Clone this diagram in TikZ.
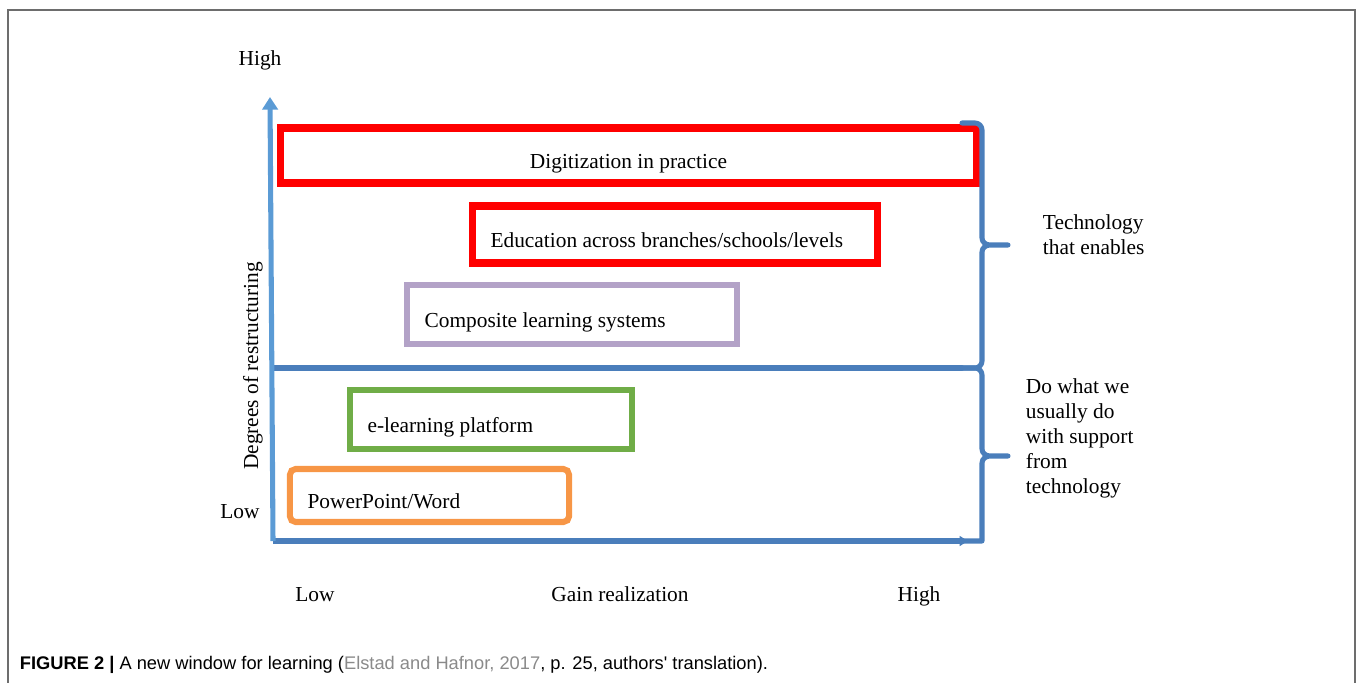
\documentclass[tikz,border=0pt]{standalone}
\usepackage{fontspec}
\setmainfont{Liberation Serif}
\newfontfamily\capfont{Liberation Sans}
\usetikzlibrary{arrows.meta}
\definecolor{axisblue}{HTML}{5B9BD5}
\definecolor{lineblue}{HTML}{4A7EBB}
\definecolor{boxred}{HTML}{FF0000}
\definecolor{boxlilac}{HTML}{B3A2C7}
\definecolor{boxgreen}{HTML}{70AD47}
\definecolor{boxorange}{HTML}{F79646}
\definecolor{framegray}{HTML}{6D6D6D}
\definecolor{refgray}{HTML}{8A8A8A}

\begin{document}
\begin{tikzpicture}[x=0.025cm, y=-0.025cm, font=\fontsize{15.2}{17.8}\selectfont,
  box/.style={draw, line width=4.3pt, inner xsep=0.44cm, inner ysep=0pt, align=flush left, text height=1.95em, text depth=0.08em},
  bluepen/.style={draw=lineblue, line width=3.6pt, line cap=round, line join=round}]
	\useasboundingbox (0,0) rectangle (1360,683);
	\draw[framegray, line width=1.5pt] (8,683) -- (8,10) -- (1355,10) -- (1355,683);
	% boxes
	\node[box, draw=boxred, line width=5pt, align=center, minimum width=17.375cm, minimum height=1.375cm] (digit) at (628.5,155.5) {Digitization in practice};
	\node[box, draw=boxred, line width=5pt, text width=9.22cm, minimum height=1.425cm] (across) at (675,234.5) {Education across branches/schools/levels};
	\node[box, draw=boxlilac, text width=7.37cm, minimum height=1.475cm] (composite) at (572,314.5) {Composite learning systems};
	\node[box, draw=boxgreen, text width=6.17cm, minimum height=1.475cm] (elearn) at (491,419.5) {e-learning platform};
	\node[box, draw=boxorange, rounded corners=4pt, text width=6.095cm, minimum height=1.325cm] (ppt) at (429.5,495.5) {PowerPoint/Word};
	% axes
	\coordinate (origin) at (273,541);
	\coordinate (ytop) at (270,97);
	\coordinate (xend) at (968,541);
	\coordinate (midleft) at (273,368);
	\coordinate (midright) at (962,368);
	\draw[bluepen] (962,123) -- (975,123) to[out=0,in=90] (982,130) -- (982,238) to[out=-90,in=180] (990,245) -- (1008,245)
	  (990,245) to[out=180,in=90] (982,252) -- (982,361) to[out=-90,in=0] (975,368) -- (960,368);
	\draw[bluepen] (960,368) -- (975,368) to[out=0,in=90] (982,375) -- (982,449) to[out=-90,in=180] (990,456) -- (1008,456)
	  (990,456) to[out=180,in=90] (982,463) -- (982,541) -- (960,541);
	\draw[bluepen] (midleft) -- (midright);
	\draw[bluepen, line cap=butt, -{Triangle[length=6pt,width=7pt]}] (origin) -- (xend);
	\draw[axisblue, line width=3.6pt, -{Triangle[length=9pt,width=11pt]}] (origin) -- (ytop);
	% labels
	\node (yhigh) at (260,60) {High};
	\node (ylow) at (240,512) {Low};
	\node[rotate=90] (ytitle) at (253,366) {Degrees of restructuring};
	\node (xlow) at (315,595) {Low};
	\node (xtitle) at (620,594) {Gain realization};
	\node (xhigh) at (919,596) {High};
	\node[align=left, anchor=west] (enable) at (1038,234.5) {Technology\\that enables};
	\node[align=left, anchor=west] (usual) at (1021,438) {Do what we\\usually do\\with support\\from\\technology};
	\node[anchor=west, font=\capfont\fontsize{13}{15}\selectfont] (caption) at (15,665)
	  {\textbf{FIGURE 2 |} A new window for learning (\textcolor{refgray}{Elstad and Hafnor, 2017}, p. 25, authors' translation).};
\end{tikzpicture}
\end{document}
